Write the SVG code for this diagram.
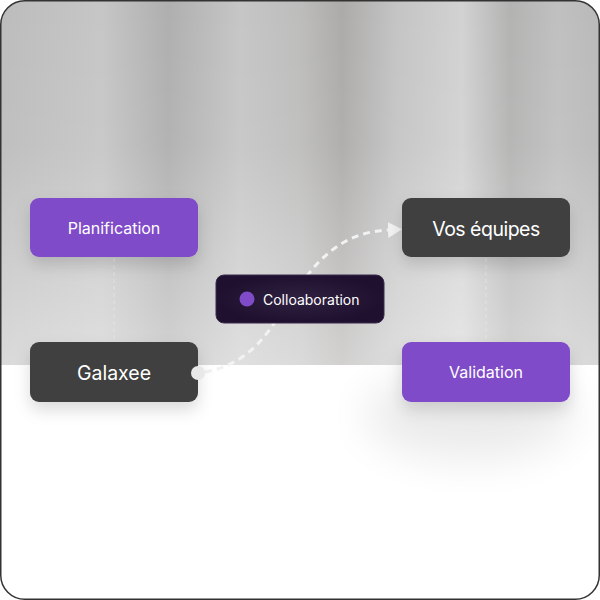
<svg xmlns="http://www.w3.org/2000/svg" width="600" height="600" viewBox="0 0 600 600">
<defs>
<linearGradient id="bands" x1="0" y1="0" x2="1" y2="0">
<stop offset="0" stop-color="#bcbcbc"/>
<stop offset="0.1" stop-color="#c2c2c2"/>
<stop offset="0.17" stop-color="#c6c6c6"/>
<stop offset="0.28" stop-color="#afafaf"/>
<stop offset="0.4" stop-color="#c6c6c6"/>
<stop offset="0.5" stop-color="#bdbdbc"/>
<stop offset="0.57" stop-color="#acaba9"/>
<stop offset="0.66" stop-color="#c4c4c4"/>
<stop offset="0.77" stop-color="#d2d2d2"/>
<stop offset="0.85" stop-color="#b3b3b2"/>
<stop offset="0.93" stop-color="#c0c0c0"/>
<stop offset="1" stop-color="#b9b9b9"/>
</linearGradient>
<linearGradient id="fade" x1="0" y1="0" x2="0" y2="1">
<stop offset="0" stop-color="#ffffff" stop-opacity="0"/>
<stop offset="0.4" stop-color="#ffffff" stop-opacity="0.05"/>
<stop offset="1" stop-color="#ffffff" stop-opacity="0.45"/>
</linearGradient>
<radialGradient id="pill" cx="0.5" cy="0.5" r="0.5">
<stop offset="0" stop-color="#2f2140"/>
<stop offset="1" stop-color="#1f1030"/>
</radialGradient>
<clipPath id="frame"><rect x="1" y="1" width="598" height="598" rx="24"/></clipPath>
<filter id="sh" x="-30%" y="-30%" width="160%" height="180%">
<feDropShadow dx="0" dy="8" stdDeviation="8" flood-color="#000" flood-opacity="0.14"/>
</filter>
<filter id="bigsh" x="-50%" y="-50%" width="200%" height="300%">
<feGaussianBlur stdDeviation="22"/>
</filter>
<marker id="arr" markerWidth="15" markerHeight="17" refX="0" refY="8" orient="auto" markerUnits="userSpaceOnUse">
<path d="M0,0 L14,8 L0,16 Z" fill="#f2f2f2"/>
</marker>
<style>
.lbl{font-family:Inter,"Noto Sans",sans-serif;fill:#ffffff;text-anchor:middle;dominant-baseline:central}
.purple{fill:#804bc8}
.dark{fill:#404040}
.vdash{stroke:#e6e6e6;stroke-width:1;stroke-dasharray:4 3;fill:none;opacity:0.8}
</style>
</defs>
<g clip-path="url(#frame)">
<rect x="0" y="0" width="600" height="600" fill="#ffffff"/>
<rect x="0" y="0" width="600" height="365" fill="url(#bands)"/>
<rect x="0" y="0" width="600" height="365" fill="url(#fade)"/>
<ellipse cx="470" cy="415" rx="105" ry="45" fill="#000" opacity="0.08" filter="url(#bigsh)"/>
</g>
<rect x="0.75" y="0.75" width="598.5" height="598.5" rx="24" fill="none" stroke="#333" stroke-width="1.5"/>
<g id="connectors">
<line class="vdash" x1="114" y1="258" x2="114" y2="342"/>
<line class="vdash" x1="486" y1="258" x2="486" y2="342"/>
<path d="M205,372 C260,362 275,318 300,285 C325,250 350,232 388,230" fill="none" stroke="#f2f2f2" stroke-width="3" stroke-dasharray="7 5" marker-end="url(#arr)"/>
</g>
<g id="planification">
<rect x="30" y="198" width="168" height="59" rx="9" class="purple" filter="url(#sh)"/>
<text x="114" y="228" class="lbl" font-size="16">Planification</text>
</g>
<g id="galaxee">
<rect x="30" y="342" width="168" height="60" rx="9" class="dark" filter="url(#sh)"/>
<text x="114" y="373" class="lbl" font-size="19.5">Galaxee</text>
<circle cx="198" cy="373" r="7" fill="#e8e8e8"/>
</g>
<g id="vos-equipes">
<rect x="402" y="198" width="168" height="59" rx="9" class="dark" filter="url(#sh)"/>
<text x="486" y="229" class="lbl" font-size="19.5" letter-spacing="-0.5">Vos équipes</text>
</g>
<g id="validation">
<rect x="402" y="342" width="168" height="60" rx="9" class="purple" filter="url(#sh)"/>
<text x="486" y="372" class="lbl" font-size="16">Validation</text>
</g>
<g id="colloaboration">
<rect x="216" y="275" width="168" height="48" rx="8" fill="url(#pill)" stroke="#3b2a4d" stroke-width="1"/>
<circle cx="247" cy="299" r="7.5" fill="#804bc8"/>
<text x="263" y="299" class="lbl" font-size="14" style="text-anchor:start">Colloaboration</text>
</g>
</svg>
